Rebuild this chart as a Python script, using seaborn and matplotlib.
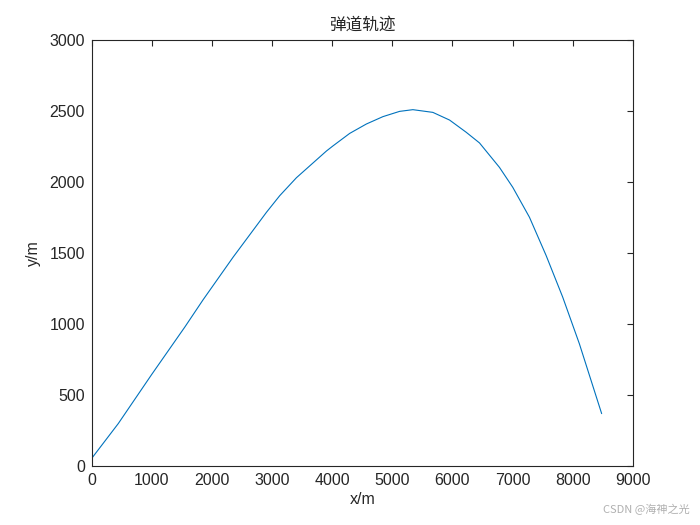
import numpy as np
import pandas as pd
import seaborn as sns
import matplotlib.pyplot as plt

# points (x in m, y in m)
x_m = [0, 442, 997, 1550, 1854, 2352, 2907, 3128, 3405, 3904, 4013, 4291,
       4568, 4844, 5121, 5342, 5674, 5952, 6229, 6450, 6782, 7003, 7281,
       7558, 7834, 8111, 8482]
y_m = [55, 300, 645, 980, 1172, 1471, 1787, 1904, 2030, 2218, 2254, 2342,
       2408, 2460, 2497, 2509, 2490, 2436, 2350, 2275, 2103, 1963, 1752,
       1483, 1190, 862, 370]

x_ticks = [0, 1000, 2000, 3000, 4000, 5000, 6000, 7000, 8000, 9000]
y_ticks = [0, 500, 1000, 1500, 2000, 2500, 3000]

df = pd.DataFrame({'x': x_m, 'y': y_m})

sns.set_style('white')
plt.rcParams['font.family'] = ['Liberation Sans', 'Noto Sans CJK SC', 'DejaVu Sans']

fig = plt.figure(figsize=(7, 5.25), dpi=100)
ax = fig.add_axes([0.131, 0.112, 0.773, 0.812])

sns.lineplot(data=df, x='x', y='y', sort=False, color='#0072BD', linewidth=0.8, ax=ax)

ax.set_xlim(0, 9000)
ax.set_ylim(0, 3000)
ax.set_xticks(x_ticks)
ax.set_yticks(y_ticks)
ax.tick_params(direction='in', top=True, right=True, length=4, width=0.8,
               labelsize=11.5, colors='#262626', pad=5)
for s in ax.spines.values():
    s.set_visible(True)
    s.set_color('#262626')
    s.set_linewidth(0.8)

ax.set_xlabel('x/m', fontsize=11.5, color='#262626', labelpad=3)
ax.set_ylabel('y/m', fontsize=11.5, color='#262626', labelpad=6)
ax.set_title('弹道轨迹', fontsize=12, color='#262626',
             family=['Noto Sans CJK SC', 'DejaVu Sans'], pad=7)

fig.text(0.985, 0.018, 'CSDN @海神之光', ha='right', va='bottom', fontsize=8,
         color='#b0b0b0', family=['Noto Sans CJK SC', 'DejaVu Sans'])

fig.savefig('out.png', dpi=100, facecolor='white')
